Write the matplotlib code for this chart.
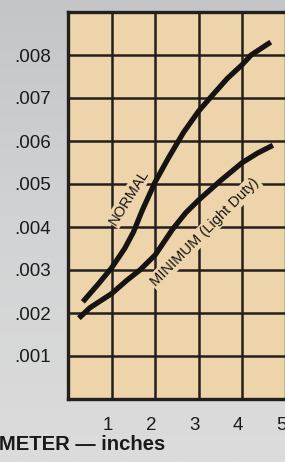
import numpy as np
import matplotlib
matplotlib.use("Agg")
import matplotlib.pyplot as plt
from matplotlib.transforms import ScaledTranslation

plt.rcParams['font.family'] = ['Liberation Sans', 'DejaVu Sans']

# diameter (inches) vs. value
normal_x = [0.34, 0.7, 1.0, 1.3, 1.5, 1.7, 2.0, 2.3, 2.65, 3.0, 3.3, 3.65, 4.0, 4.2, 4.65]
normal_y = [0.00226, 0.00268, 0.00305, 0.0035, 0.00388, 0.00438, 0.00505, 0.0056,
            0.0062, 0.0067, 0.00705, 0.00745, 0.00778, 0.0080, 0.0083]
minimum_x = [0.25, 0.5, 1.0, 1.35, 1.65, 2.0, 2.4, 2.7, 3.0, 3.5, 4.0, 4.35, 4.7]
minimum_y = [0.00188, 0.00212, 0.00245, 0.00276, 0.0030, 0.00335, 0.00395, 0.00433,
             0.00463, 0.00508, 0.0055, 0.00572, 0.0059]

x_ticks = [1, 2, 3, 4, 5]
x_labels = ['1', '2', '3', '4', '5']
y_ticks = [0.001, 0.002, 0.003, 0.004, 0.005, 0.006, 0.007, 0.008]
y_labels = ['.001', '.002', '.003', '.004', '.005', '.006', '.007', '.008']

TAN = '#EDD4AB'
INK = '#231f1c'

fig = plt.figure(figsize=(2.85, 4.62), dpi=100)

# grey backdrop
bg = fig.add_axes([0, 0, 1, 1], zorder=-10)
grad = np.linspace(0, 1, 200)[:, None] * np.ones((1, 50))
bg.imshow(grad, cmap=matplotlib.colors.LinearSegmentedColormap.from_list(
    'bg', ['#c4c5c7', '#d2d3d4', '#dcdcdc']), aspect='auto', extent=[0, 1, 0, 1])
bg.axis('off')

W, H = 285.0, 462.0
left, right, top, bottom = 68, 286, 12, 399
ax = fig.add_axes([left / W, 1 - bottom / H, (right - left) / W, (bottom - top) / H])
ax.set_facecolor(TAN)
ax.set_xlim(0, 5)
ax.set_ylim(0, 0.009)

ax.set_xticks(x_ticks)
ax.set_xticklabels(x_labels)
ax.set_yticks(y_ticks)
ax.set_yticklabels(y_labels)
ax.tick_params(length=0, labelsize=13.5, colors='#1a1a1a')
ax.tick_params(axis='y', pad=12)
ax.tick_params(axis='x', pad=13)
ax.grid(True, color=INK, linewidth=1.8, zorder=1)
ax.set_axisbelow(True)
for s in ax.spines.values():
    s.set_color(INK)
    s.set_linewidth(2.4)

shift = ScaledTranslation(-3 / 72, 0, fig.dpi_scale_trans)
for lbl in ax.get_xticklabels():
    lbl.set_transform(lbl.get_transform() + shift)

ax.plot(normal_x, normal_y, color='#161412', linewidth=3.8, solid_capstyle='butt',
        solid_joinstyle='round', zorder=4)
ax.plot(minimum_x, minimum_y, color='#161412', linewidth=3.8, solid_capstyle='butt',
        solid_joinstyle='round', zorder=4)

box = dict(facecolor=TAN, edgecolor='none', pad=1.0)
ax.text(1.40, 0.0047, 'NORMAL', rotation=58, ha='center', va='center',
        fontsize=10.5, color='#161412', bbox=box, zorder=3, rotation_mode='anchor')
ax.text(3.13, 0.00388, 'MINIMUM (Light Duty)', rotation=45, ha='center', va='center',
        fontsize=10.5, color='#161412', bbox=box, zorder=3, rotation_mode='anchor')

fig.text(165 / W, 1 - 444 / H, 'DIAMETER \u2014 inches', ha='right', va='center',
         fontsize=14.6, fontweight='bold', color='#1a1a1a')

fig.savefig('out.png', dpi=100)
